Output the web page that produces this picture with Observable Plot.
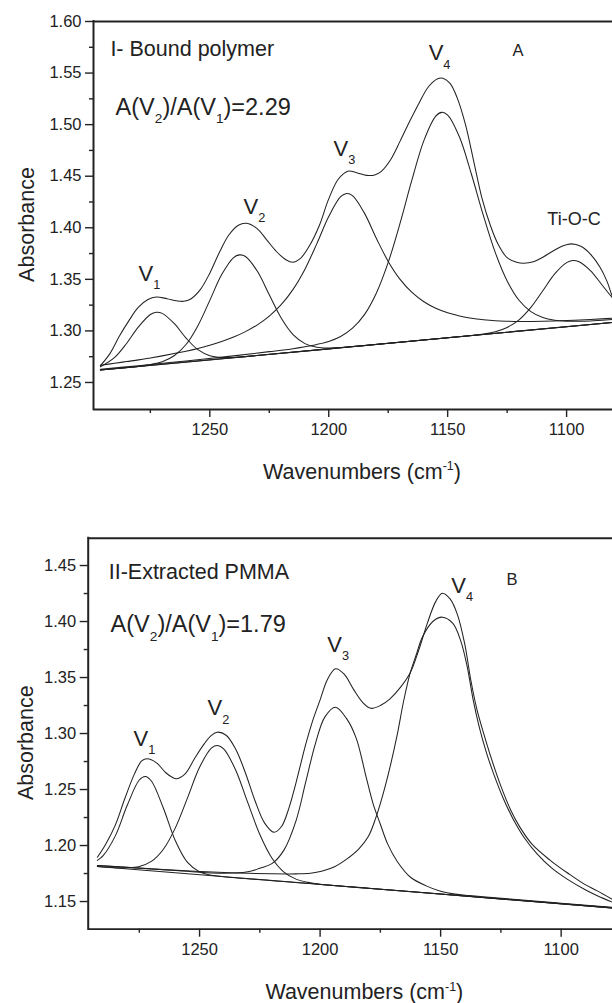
<!DOCTYPE html>
<html><head><meta charset="utf-8">
<script src="https://cdn.jsdelivr.net/npm/d3@7"></script>
<script src="https://cdn.jsdelivr.net/npm/@observablehq/plot@0.6"></script>
<style>
html,body{margin:0;padding:0;background:#fff;}
#chart{width:612px;height:1003px;overflow:hidden;background:#fff;}
#chart svg{display:block;}
</style></head><body><div id="chart"></div>
<script>
// ---------- tick values ----------
const xMajorTicks = [1250, 1200, 1150, 1100];
const xMinorTicks = [1275, 1225, 1175, 1125];
const topYMajor = [1.25, 1.30, 1.35, 1.40, 1.45, 1.50, 1.55, 1.60];
const topYMinor = [1.275, 1.325, 1.375, 1.425, 1.475, 1.525, 1.575];
const botYMajor = [1.15, 1.20, 1.25, 1.30, 1.35, 1.40, 1.45];
const botYMinor = [1.175, 1.225, 1.275, 1.325, 1.375, 1.425];

// ---------- panel A (bound polymer): [wavenumber, absorbance] ----------
const topEnvelope = [[1296,1.2663],[1292,1.2780],[1288,1.2950],[1284,1.3100],[1280,1.3230],[1276,1.3305],[1272.5,1.3328],[1268,1.3312],[1264,1.3292],[1261,1.3287],[1258,1.3310],[1254,1.3400],[1250,1.3560],[1246,1.3760],[1242,1.3930],[1238,1.4025],[1234.5,1.4044],[1230,1.3990],[1226,1.3880],[1222,1.3770],[1218,1.3690],[1215,1.3665],[1212,1.3700],[1208,1.3830],[1204,1.4020],[1200,1.4280],[1196,1.4470],[1192,1.4548],[1188,1.4532],[1184,1.4508],[1181,1.4510],[1178,1.4545],[1174,1.4660],[1170,1.4840],[1166,1.5030],[1162,1.5210],[1158,1.5370],[1154,1.5448],[1152,1.5450],[1149,1.5400],[1146,1.5260],[1142.5,1.5000],[1139,1.4640],[1135.5,1.4280],[1132,1.4020],[1129,1.3850],[1125,1.3710],[1121,1.3665],[1118,1.3656],[1114,1.3670],[1110,1.3715],[1106,1.3770],[1102,1.3820],[1098,1.3844],[1094,1.3820],[1090,1.3745],[1086,1.3620],[1083,1.3480],[1080.7,1.3330],[1077,1.3150]];
const topV1 = [[1296,1.2652],[1290,1.2743],[1285,1.2878],[1280,1.3039],[1275,1.3159],[1272.5,1.3181],[1270,1.3170],[1265,1.3072],[1260,1.2931],[1255,1.2818],[1250,1.2760],[1245,1.2742],[1240,1.2743],[1230,1.2762],[1200,1.2826],[1150,1.2934],[1075,1.3095]];
const topV2 = [[1296,1.2620],[1285,1.2644],[1280,1.2656],[1275,1.2673],[1270,1.2701],[1265,1.2759],[1260,1.2868],[1255,1.3051],[1250,1.3296],[1245,1.3546],[1240,1.3711],[1237.5,1.3737],[1235,1.3722],[1230,1.3578],[1225,1.3350],[1220,1.3126],[1215,1.2965],[1210,1.2877],[1205,1.2841],[1200,1.2834],[1195,1.2839],[1150,1.2934],[1075,1.3095]];
const topV3 = [[1296,1.2667],[1290,1.2686],[1285,1.2703],[1280,1.2719],[1275,1.2738],[1270,1.2758],[1265,1.2780],[1260,1.2803],[1255,1.2830],[1250,1.2862],[1245,1.2898],[1240,1.2940],[1235,1.2993],[1230,1.3059],[1225,1.3144],[1220,1.3254],[1215,1.3403],[1210,1.3599],[1205,1.3846],[1200,1.4109],[1195,1.4301],[1192.5,1.4333],[1190,1.4312],[1185,1.4142],[1180,1.3899],[1175,1.3674],[1170,1.3500],[1165,1.3373],[1160,1.3283],[1155,1.3220],[1150,1.3176],[1145,1.3145],[1140,1.3123],[1135,1.3109],[1130,1.3099],[1125,1.3094],[1120,1.3091],[1110,1.3093],[1100,1.3100],[1090,1.3111],[1075,1.3130]];
const topV4 = [[1296,1.2627],[1280,1.2663],[1260,1.2709],[1240,1.2758],[1225,1.2799],[1215,1.2828],[1210,1.2847],[1205,1.2869],[1200,1.2898],[1195,1.2946],[1190,1.3026],[1185,1.3158],[1180,1.3366],[1175,1.3664],[1170,1.4045],[1165,1.4466],[1160,1.4845],[1155,1.5082],[1152.5,1.5119],[1150,1.5093],[1145,1.4878],[1140,1.4519],[1135,1.4120],[1130,1.3761],[1125,1.3485],[1120,1.3297],[1115,1.3187],[1110,1.3129],[1105,1.3103],[1100,1.3094],[1095,1.3094],[1090,1.3097],[1085,1.3104],[1075,1.3118]];
const topTiOC = [[1296,1.2620],[1200,1.2826],[1150,1.2934],[1140,1.2956],[1135,1.2971],[1130,1.2993],[1125,1.3034],[1120,1.3107],[1115,1.3228],[1110,1.3389],[1105,1.3553],[1100,1.3662],[1097.5,1.3682],[1095,1.3673],[1090,1.3585],[1085,1.3443],[1080,1.3303],[1075,1.3204]];
const topBaseline = [[1296,1.2620],[1075,1.3095]];

// ---------- panel B (extracted PMMA) ----------
const botEnvelope = [[1292.4,1.1896],[1289,1.2010],[1285,1.2180],[1281,1.2420],[1277,1.2640],[1274,1.2755],[1271.7,1.2774],[1268,1.2740],[1264,1.2650],[1261,1.2605],[1259.5,1.2596],[1256,1.2640],[1252,1.2780],[1248,1.2910],[1245,1.2985],[1242.7,1.3012],[1239,1.2985],[1235,1.2860],[1231,1.2650],[1227,1.2400],[1223,1.2200],[1219.2,1.2119],[1216,1.2170],[1213,1.2330],[1210,1.2560],[1206,1.2900],[1203,1.3120],[1200,1.3300],[1197,1.3480],[1193.6,1.3578],[1190,1.3530],[1186,1.3390],[1182,1.3270],[1179,1.3225],[1175,1.3250],[1171,1.3310],[1166.6,1.3414],[1162.5,1.3547],[1159,1.3750],[1155.6,1.3979],[1152,1.4180],[1149.3,1.4253],[1146,1.4200],[1143,1.4060],[1140,1.3800],[1137.5,1.3480],[1135,1.3220],[1132,1.2990],[1129,1.2780],[1125,1.2530],[1121,1.2320],[1117,1.2160],[1112,1.2010],[1104.4,1.1866],[1097,1.1750],[1090.6,1.1658],[1085,1.1595],[1078,1.1510]];
const botV1 = [[1292.4,1.1867],[1290,1.1910],[1285,1.2084],[1280,1.2359],[1275,1.2585],[1272.5,1.2616],[1270,1.2576],[1265,1.2333],[1260,1.2041],[1255,1.1849],[1250,1.1765],[1245,1.1735],[1240,1.1722],[1200,1.1653],[1150,1.1567],[1078,1.1442]];
const botV2 = [[1292.4,1.1813],[1285,1.1802],[1280,1.1801],[1275,1.1813],[1270,1.1858],[1265,1.1967],[1260,1.2160],[1255,1.2426],[1250,1.2699],[1245,1.2872],[1242.5,1.2893],[1240,1.2863],[1235,1.2673],[1230,1.2383],[1225,1.2099],[1220,1.1889],[1215,1.1763],[1210,1.1700],[1205,1.1671],[1200,1.1655],[1180,1.1619],[1150,1.1567],[1120,1.1515],[1078,1.1442]];
const botV3 = [[1292.4,1.1822],[1260,1.1777],[1240,1.1752],[1230,1.1765],[1225,1.1797],[1220,1.1838],[1215,1.1959],[1210,1.2220],[1206,1.2563],[1202,1.2906],[1198,1.3149],[1193.6,1.3235],[1189,1.3133],[1185,1.2957],[1181,1.2620],[1178,1.2372],[1175,1.2190],[1172,1.2015],[1168,1.1858],[1162.5,1.1717],[1156,1.1640],[1150,1.1592],[1144,1.1566],[1138,1.1553],[1130,1.1538],[1120,1.1520],[1100,1.1485],[1078,1.1448]];
const botV4 = [[1292.4,1.1822],[1280,1.1805],[1265,1.1785],[1250,1.1768],[1235,1.1755],[1220,1.1748],[1210,1.1747],[1204,1.1752],[1199,1.1772],[1194,1.1810],[1189,1.1878],[1184,1.1968],[1180,1.2080],[1177,1.2240],[1174,1.2450],[1171,1.2700],[1168,1.2990],[1165.3,1.3295],[1162.5,1.3550],[1160,1.3710],[1157.6,1.3860],[1153,1.4005],[1149.3,1.4039],[1145,1.3985],[1141.7,1.3830],[1139,1.3600],[1136.5,1.3300],[1134,1.3060],[1131,1.2830],[1128,1.2640],[1124,1.2420],[1120,1.2240],[1115,1.2060],[1110,1.1925],[1104,1.1800],[1097.5,1.1700],[1090,1.1605],[1085,1.1552],[1078,1.1488]];
const botBaseline = [[1292.4,1.1813],[1078,1.1442]];

// ---------- annotations (anchored in data units) ----------
const topPeakLabels = [
  {text: "V_1", x: 1280.0, y: 1.3488},
  {text: "V_2", x: 1235.8, y: 1.4138},
  {text: "V_3", x: 1198.0, y: 1.4700},
  {text: "V_4", x: 1158.0, y: 1.5622}
];
const topBandLabel = [{text: "Ti-O-C", x: 1108.1, y: 1.4031}];
const topLetter = [{text: "A", x: 1122.7, y: 1.5670}];
const topTitle = [{text: "I- Bound polymer", x: 1291.8, y: 1.5670}];
const topRatio = [{text: "A(V_2)/A(V_1)=2.29", x: 1289.6, y: 1.5098}];

const botPeakLabels = [
  {text: "V_1", x: 1277.4, y: 1.2893},
  {text: "V_2", x: 1246.7, y: 1.3161},
  {text: "V_3", x: 1197.0, y: 1.3726},
  {text: "V_4", x: 1145.6, y: 1.4253}
];
const botLetter = [{text: "B", x: 1122.7, y: 1.4330}];
const botTitle = [{text: "II-Extracted PMMA", x: 1287.7, y: 1.4384}];
const botRatio = [{text: "A(V_2)/A(V_1)=1.79", x: 1286.9, y: 1.3904}];

const xTitle = "Wavenumbers (cm^{-1})";
const yTitle = "Absorbance";

// ---------- drawing ----------
const FONT = '"Liberation Sans", Arial, Helvetica, sans-serif';
const INK = "#222";

function curves(list) {
  return list.map(s => Plot.line(s, {x: d => d[0], y: d => d[1], curve: "catmull-rom", stroke: INK, strokeWidth: 1.05}));
}
function labels(data, size) {
  return Plot.text(data, {x: "x", y: "y", text: "text", textAnchor: "start", lineAnchor: "bottom", fontSize: size, fill: INK});
}

function panel(cfg) {
  const [x0] = cfg.xDomain;
  const [y0, y1] = cfg.yDomain;
  return Plot.plot({
    width: 612, height: cfg.height,
    marginTop: cfg.mt, marginBottom: cfg.mb, marginLeft: cfg.ml, marginRight: 0,
    x: {domain: cfg.xDomain},
    y: {domain: cfg.yDomain},
    style: {fontFamily: FONT, fontSize: "16.5px", color: INK, background: "white", overflow: "visible"},
    marks: [
      ...curves(cfg.series),
      Plot.ruleY([y1], {stroke: INK, strokeWidth: 2}),
      Plot.ruleY([y0], {stroke: INK, strokeWidth: 1.8}),
      Plot.ruleX([x0], {stroke: INK, strokeWidth: 2, strokeLinecap: "square"}),
      Plot.axisX(xMajorTicks, {anchor: "bottom", tickSize: 8, tickPadding: 6, tickFormat: d => String(d), label: null, fontSize: 16.5, strokeWidth: 1.4}),
      Plot.axisX(xMinorTicks, {anchor: "bottom", tickSize: 4, tickFormat: () => "", label: null, strokeWidth: 1.4}),
      Plot.axisY(cfg.yMajor, {anchor: "left", tickSize: 8, tickPadding: 4, tickFormat: d3.format(".2f"), label: null, fontSize: 16.5, strokeWidth: 1.4}),
      Plot.axisY(cfg.yMinor, {anchor: "left", tickSize: 4, tickFormat: () => "", label: null, strokeWidth: 1.4}),
      labels(cfg.title, 21.5),
      labels(cfg.ratio, 23.5),
      labels(cfg.peaks, 22),
      labels(cfg.letter, 16.5),
      ...(cfg.band ? [labels(cfg.band, 18)] : []),
      Plot.text([xTitle], {text: d => d, frameAnchor: "bottom", dx: cfg.xtDx, dy: cfg.xtDy, lineAnchor: "bottom", textAnchor: "middle", fontSize: 21.5, fill: INK}),
      Plot.text([yTitle], {text: d => d, frameAnchor: "left", rotate: -90, dx: cfg.ytDx, dy: cfg.ytDy, lineAnchor: "bottom", textAnchor: "middle", fontSize: 21.5, fill: INK})
    ]
  });
}

const topChart = panel({
  height: 490, mt: 21, mb: 81, ml: 93,
  xDomain: [1298.9, 1080.7], yDomain: [1.2238, 1.60],
  yMajor: topYMajor, yMinor: topYMinor,
  series: [topBaseline, topV1, topV2, topV3, topV4, topTiOC, topEnvelope],
  title: topTitle, ratio: topRatio, peaks: topPeakLabels, letter: topLetter, band: topBandLabel,
  xtDx: 9, xtDy: 69, ytDx: -60, ytDy: 9
});
const bottomChart = panel({
  height: 513, mt: 47.7, mb: 74.3, ml: 87.7,
  xDomain: [1296.2, 1078.7], yDomain: [1.1253, 1.4744],
  yMajor: botYMajor, yMinor: botYMinor,
  series: [botBaseline, botV1, botV2, botV3, botV4, botEnvelope],
  title: botTitle, ratio: botRatio, peaks: botPeakLabels, letter: botLetter, band: null,
  xtDx: 14, xtDy: 70, ytDx: -55, ytDy: 9
});

const host = document.getElementById("chart");
host.appendChild(topChart);
host.appendChild(bottomChart);

// sub/superscripts: "_x" or "^{...}"
function rich(svg) {
  svg.querySelectorAll("text").forEach(t => {
    const s = t.textContent;
    if (!/[_^]/.test(s)) return;
    const fs = parseFloat(getComputedStyle(t).fontSize) || 16;
    const re = /([_^])(\{[^}]*\}|.)/g;
    let last = 0, m, shift = 0;
    t.textContent = "";
    const add = (str, dy, size) => {
      const ts = document.createElementNS("http://www.w3.org/2000/svg", "tspan");
      ts.textContent = str;
      if (dy) ts.setAttribute("dy", dy);
      if (size) ts.setAttribute("font-size", size);
      t.appendChild(ts);
    };
    while ((m = re.exec(s))) {
      if (m.index > last) { add(s.slice(last, m.index), -shift); shift = 0; }
      const body = m[2].startsWith("{") ? m[2].slice(1, -1) : m[2];
      const d = m[1] === "_" ? 0.37 * fs : -0.4 * fs;
      add(body, d - shift, 0.58 * fs);
      shift = d;
      last = re.lastIndex;
    }
    if (last < s.length) add(s.slice(last), -shift);
  });
}
rich(topChart);
rich(bottomChart);
</script></body></html>
